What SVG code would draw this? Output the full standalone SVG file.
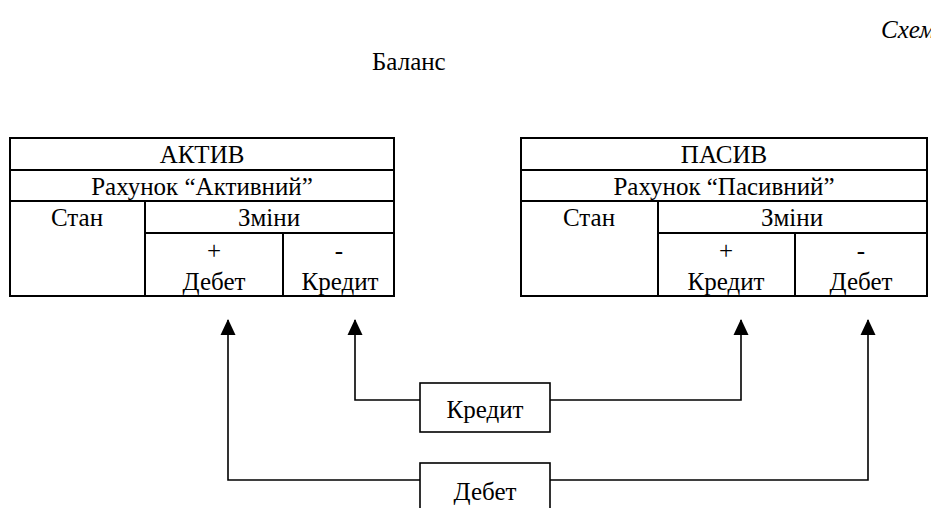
<svg xmlns="http://www.w3.org/2000/svg" width="931" height="508" viewBox="0 0 931 508" font-family="'Liberation Serif', 'Times New Roman', 'DejaVu Serif', serif">
<defs>
<style>
text{font-family:'Liberation Serif','Times New Roman','DejaVu Serif',serif;font-size:25px;fill:#000}
.c{text-anchor:middle}
.t{fill:none;stroke:#000;stroke-width:2}
.ln{fill:none;stroke:#000;stroke-width:1.6}
.bx{fill:#fff;stroke:#000;stroke-width:1.6}
</style>
<marker id="ah" markerWidth="16" markerHeight="16" viewBox="0 0 16 16" refX="15" refY="8" orient="auto" markerUnits="userSpaceOnUse">
<path d="M16,8 L0,0.5 L0,15.5 Z" fill="#000"/>
</marker>
</defs>
<text x="881" y="38" font-style="italic">Схема</text>
<text x="372" y="70">Баланс</text>
<g id="aktiv">
<rect class="t" x="10" y="138" width="384" height="158"/>
<line class="t" x1="10" y1="170" x2="394" y2="170"/>
<line class="t" x1="10" y1="201" x2="394" y2="201"/>
<line class="t" x1="145" y1="233" x2="394" y2="233"/>
<line class="t" x1="145" y1="201" x2="145" y2="296"/>
<line class="t" x1="283" y1="233" x2="283" y2="296"/>
<text class="c" x="202" y="163">АКТИВ</text>
<text class="c" x="202" y="195">Рахунок “Активний”</text>
<text class="c" x="77" y="226">Стан</text>
<text class="c" x="269" y="226">Зміни</text>
<text class="c" x="214" y="259">+</text>
<text class="c" x="339" y="259">-</text>
<text class="c" x="214" y="290">Дебет</text>
<text class="c" x="340" y="290">Кредит</text>
</g>
<g id="pasiv">
<rect class="t" x="521" y="138" width="406" height="158"/>
<line class="t" x1="521" y1="170" x2="927" y2="170"/>
<line class="t" x1="521" y1="201" x2="927" y2="201"/>
<line class="t" x1="658" y1="233" x2="927" y2="233"/>
<line class="t" x1="658" y1="201" x2="658" y2="296"/>
<line class="t" x1="795" y1="233" x2="795" y2="296"/>
<text class="c" x="724" y="163">ПАСИВ</text>
<text class="c" x="724" y="195">Рахунок “Пасивний”</text>
<text class="c" x="589" y="226">Стан</text>
<text class="c" x="792" y="226">Зміни</text>
<text class="c" x="726" y="259">+</text>
<text class="c" x="861" y="259">-</text>
<text class="c" x="726" y="290">Кредит</text>
<text class="c" x="861" y="290">Дебет</text>
</g>
<g id="connectors">
<polyline class="ln" points="420,400 355,400 355,320" marker-end="url(#ah)"/>
<polyline class="ln" points="550,400 741,400 741,320" marker-end="url(#ah)"/>
<polyline class="ln" points="420,480 228,480 228,320" marker-end="url(#ah)"/>
<polyline class="ln" points="550,480 868,480 868,320" marker-end="url(#ah)"/>
</g>
<g id="kredit">
<rect class="bx" x="420" y="383" width="130" height="49"/>
<text class="c" x="485" y="418">Кредит</text>
</g>
<g id="debet">
<rect class="bx" x="420" y="463" width="130" height="60"/>
<text class="c" x="485" y="500">Дебет</text>
</g>
</svg>
